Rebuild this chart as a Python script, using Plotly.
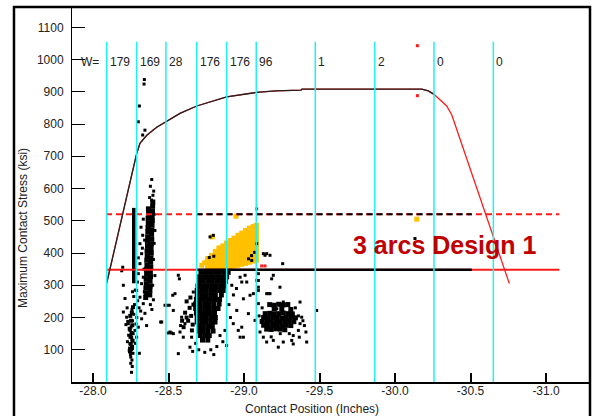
import plotly.graph_objects as go

FONT = "Arial, 'Liberation Sans', sans-serif"

# ---------------- axes ----------------
x_tick_vals = [-28.0, -28.5, -29.0, -29.5, -30.0, -30.5, -31.0]
x_tick_text = ["-28.0", "-28.5", "-29.0", "-29.5", "-30.0", "-30.5", "-31.0"]
y_tick_vals = [100, 200, 300, 400, 500, 600, 700, 800, 900, 1000, 1100]
y_tick_text = ["100", "200", "300", "400", "500", "600", "700", "800", "900", "1000", "1100"]

# ---------------- cyan window lines & W labels ----------------
cyan_x = [-28.091, -28.289, -28.483, -28.687, -28.885, -29.081, -29.472, -29.866, -30.258, -30.651]
cyan_top = 1055
w_labels = ["179", "169", "28", "176", "176", "96", "1", "2", "0", "0"]
w_label_y = 992

# ---------------- envelope curve ----------------
curve_x = [-28.091, -28.289, -28.311, -28.356, -28.422, -28.483, -28.576, -28.687, -28.885,
           -29.081, -29.210, -29.377, -29.384, -30.177, -30.220, -30.258, -30.342, -30.376, -30.757]
curve_y = [307, 708, 740, 765, 790, 807, 833, 856, 884,
           898, 903, 905, 908, 908, 903, 892, 856, 828, 305]
curve_black_count = 16

# ---------------- limit lines ----------------
limit_dashed = 520
limit_solid = 348
limit_red_x = [-28.086, -31.088]
limit_black_x = [-28.687, -30.508]

# ---------------- scatter: vertical bar ----------------
bar_x = [-28.270, -28.270]
bar_y = [306, 540]

# ---------------- scatter: band B (dense) ----------------
bcore_x = [-28.349, -28.351, -28.350, -28.353, -28.352, -28.355, -28.354, -28.357, -28.356, -28.359,
           -28.358, -28.361, -28.360, -28.362, -28.363, -28.364, -28.366, -28.365, -28.368, -28.367,
           -28.376, -28.377, -28.379, -28.378, -28.381, -28.380, -28.383, -28.382, -28.384, -28.386,
           -28.385, -28.387, -28.389, -28.388, -28.390, -28.391, -28.393, -28.392, -28.394, -28.395, -28.396]
bcore_y = [262, 276, 291, 305, 320, 334, 349, 363, 378, 392,
           407, 421, 436, 450, 465, 479, 494, 508, 523, 537,
           270, 284, 298, 313, 327, 342, 356, 371, 385, 400,
           414, 429, 443, 458, 472, 487, 501, 516, 530, 545, 558]

# band B (sparse)
bs_x = [-28.389, -28.380, -28.397, -28.389, -28.402, -28.375,
        -28.340, -28.338, -28.307, -28.300, -28.344, -28.329,
        -28.300, -28.289, -28.307, -28.322, -28.344, -28.355, -28.333, -28.311, -28.289, -28.322,
        -28.333, -28.300, -28.311, -28.322, -28.311, -28.329, -28.318, -28.333, -28.300, -28.294,
        -28.305, -28.316, -28.296, -28.340, -28.338, -28.327, -28.342,
        -28.405, -28.410, -28.405, -28.400, -28.410, -28.395, -28.400, -28.380, -28.390]
bs_y = [628, 607, 579, 564, 592, 572,
        938, 924, 856, 807, 781, 766,
        170, 139, 89, 196, 213, 175, 243, 263, 284, 305,
        325, 336, 367, 398, 429, 455, 480, 505, 385, 310,
        230, 220, 252, 280, 350, 415, 440,
        520, 470, 430, 380, 330, 300, 255, 240, 225]

# tail below the bar
tail_x = [-28.201, -28.212, -28.201, -28.223, -28.234, -28.245, -28.256, -28.245, -28.240, -28.250,
          -28.250, -28.265, -28.262, -28.258, -28.266, -28.252, -28.262, -28.270, -28.258, -28.275,
          -28.270, -28.280, -28.262, -28.236, -28.228, -28.242, -28.255, -28.248, -28.258, -28.230,
          -28.218, -28.226, -28.285, -28.290, -28.280, -28.278, -28.260, -28.255, -28.197, -28.190]
tail_y = [300, 259, 217, 201, 181, 160, 139, 119, 98, 77,
          58, 89, 110, 130, 150, 170, 190, 210, 225, 240,
          265, 285, 280, 145, 125, 105, 100, 85, 68, 188,
          178, 230, 180, 200, 120, 160, 48, 30, 356, 345]
tcore_x = [-28.245, -28.258, -28.250, -28.262, -28.248, -28.255, -28.243, -28.260, -28.252, -28.247, -28.257, -28.265]
tcore_y = [95, 105, 118, 128, 140, 152, 165, 176, 190, 205, 215, 232]

# ---------------- cluster C ----------------
ccore_x = [-28.715, -28.745, -28.775, -28.805, -28.835, -28.865, -28.895,
           -28.705, -28.735, -28.765, -28.795, -28.825, -28.855, -28.885,
           -28.700, -28.730, -28.760, -28.790, -28.820, -28.850, -28.878,
           -28.695, -28.725, -28.755, -28.785, -28.815, -28.845, -28.870,
           -28.690, -28.720, -28.750, -28.780, -28.810, -28.840, -28.862,
           -28.690, -28.720, -28.750, -28.780, -28.810, -28.850,
           -28.685, -28.715, -28.745, -28.775, -28.805, -28.838,
           -28.680, -28.710, -28.740, -28.770, -28.800, -28.835,
           -28.680, -28.710, -28.740, -28.770, -28.800, -28.828,
           -28.685, -28.715, -28.745, -28.775, -28.805,
           -28.690, -28.720, -28.750, -28.780, -28.810,
           -28.690, -28.720, -28.750, -28.780, -28.808,
           -28.700, -28.730, -28.760, -28.790,
           -28.700, -28.730, -28.760, -28.795,
           -28.710, -28.740, -28.770,
           -28.725, -28.760]
ccore_y = [340, 340, 340, 340, 340, 340, 340,
           326, 326, 326, 326, 326, 326, 326,
           312, 312, 312, 312, 312, 312, 312,
           298, 298, 298, 298, 298, 298, 298,
           284, 284, 284, 284, 284, 284, 284,
           270, 270, 270, 270, 270, 270,
           256, 256, 256, 256, 256, 256,
           242, 242, 242, 242, 242, 242,
           228, 228, 228, 228, 228, 228,
           214, 214, 214, 214, 214,
           200, 200, 200, 200, 200,
           186, 186, 186, 186, 186,
           172, 172, 172, 172,
           158, 158, 158, 158,
           144, 144, 144,
           130, 130]

cleft_x = [-28.620, -28.640, -28.610, -28.650, -28.630, -28.660, -28.600, -28.645, -28.655, -28.620, -28.665, -28.590]
cleft_y = [250, 230, 215, 205, 190, 178, 170, 262, 160, 200, 240, 190]

cs_x = [-28.565, -28.477, -28.532, -28.543, -28.664, -28.587, -28.609, -28.576, -28.510, -28.532,
        -28.598, -28.642, -28.565, -28.455, -28.653, -28.952, -28.996, -29.040, -28.974, -28.919,
        -28.929, -28.962, -28.974, -28.885, -28.874, -28.841, -29.084, -29.095, -28.488, -28.505,
        -28.528, -28.448, -28.499, -28.520, -28.572, -28.680, -28.660, -28.700, -28.740, -28.780,
        -28.800, -28.820, -28.860, -28.910, -28.900, -28.930, -28.950, -28.890, -28.580]
cs_y = [331, 238, 222, 274, 279, 201, 181, 155, 155, 150,
        139, 108, 88, 186, 139, 222, 258, 269, 325, 300,
        181, 160, 139, 113, 160, 144, 315, 284, 238, 238,
        269, 186, 152, 152, 320, 120, 95, 100, 92, 100,
        85, 110, 125, 200, 240, 270, 290, 350, 175]

# black dots lying on top of the yellow cloud
cover_x = [-28.775, -28.797, -28.770, -28.800, -29.051, -29.084, -29.128, -29.150, -29.050, -29.070, -29.030]
cover_y = [450, 455, 386, 390, 377, 429, 398, 398, 392, 402, 382]

# ---------------- cluster D ----------------
dcore_x = [-29.17, -29.20, -29.23, -29.26, -29.29,
           -29.20, -29.25, -29.31,
           -29.14, -29.17, -29.20, -29.23, -29.26, -29.29, -29.32,
           -29.13, -29.16, -29.19, -29.22, -29.25, -29.28, -29.31, -29.34,
           -29.12, -29.15, -29.18, -29.21, -29.24, -29.27, -29.30, -29.33,
           -29.13, -29.16, -29.19, -29.22, -29.25, -29.28, -29.31,
           -29.15, -29.18, -29.21, -29.24, -29.27]
dcore_y = [240, 238, 241, 239, 240,
           226, 227, 225,
           212, 213, 211, 212, 214, 212, 211,
           200, 199, 201, 200, 198, 200, 201, 199,
           188, 187, 189, 188, 186, 188, 189, 187,
           176, 175, 177, 176, 174, 176, 175,
           164, 163, 165, 164, 162]

ds_x = [-29.172, -29.139, -29.256, -29.095, -29.095, -29.194, -29.183, -29.238, -29.095, -29.150,
        -29.161, -29.172, -29.095, -29.260, -29.371, -29.481, -29.293, -29.217, -29.382, -29.371,
        -29.360, -29.326, -29.316, -29.260, -29.227, -29.194, -29.150, -29.128, -29.106, -29.117,
        -29.029, -28.985, -28.996, -29.073, -28.985, -29.018, -29.007, -29.062, -29.240, -29.300,
        -29.180, -29.360, -29.340, -29.120, -29.100, -29.415, -29.326, -29.410, -29.366, -29.390,
        -29.400, -30.132]
ds_y = [393, 393, 367, 336, 315, 331, 320, 294, 294, 274,
        274, 274, 243, 248, 248, 222, 243, 227, 201, 181,
        160, 144, 129, 124, 108, 129, 124, 139, 155, 186,
        212, 170, 139, 191, 310, 310, 331, 274, 150, 150,
        140, 205, 230, 230, 205, 124, 118, 155, 139, 190,
        175, 445]

# ---------------- yellow cluster ----------------
yel_x = [-28.760, -28.760, -28.760, -28.760,
         -28.785, -28.785, -28.785, -28.785, -28.785,
         -28.810, -28.810, -28.810, -28.810, -28.810, -28.810,
         -28.835, -28.835, -28.835, -28.835, -28.835, -28.835, -28.835,
         -28.860, -28.860, -28.860, -28.860, -28.860, -28.860, -28.860,
         -28.885, -28.885, -28.885, -28.885, -28.885, -28.885, -28.885, -28.885,
         -28.910, -28.910, -28.910, -28.910, -28.910, -28.910, -28.910, -28.910,
         -28.935, -28.935, -28.935, -28.935, -28.935, -28.935, -28.935, -28.935, -28.935,
         -28.960, -28.960, -28.960, -28.960, -28.960, -28.960, -28.960, -28.960, -28.960,
         -28.985, -28.985, -28.985, -28.985, -28.985, -28.985, -28.985, -28.985, -28.985,
         -29.010, -29.010, -29.010, -29.010, -29.010, -29.010, -29.010, -29.010, -29.010, -29.010,
         -29.035, -29.035, -29.035, -29.035, -29.035, -29.035, -29.035, -29.035, -29.035, -29.035,
         -29.060, -29.060, -29.060, -29.060, -29.060, -29.060, -29.060, -29.060, -29.060, -29.060,
         -29.082, -29.082, -29.082, -29.082, -29.082, -29.082, -29.082, -29.082, -29.082, -29.082,
         -28.720, -28.740, -28.790, -28.947, -30.144]
yel_y = [352, 364, 376, 383,
         352, 364, 376, 388, 392,
         352, 364, 376, 388, 400, 405,
         353, 365, 377, 389, 401, 413, 416,
         354, 366, 378, 390, 402, 414, 422,
         356, 368, 380, 392, 404, 416, 428, 431,
         358, 370, 382, 394, 406, 418, 430, 439,
         360, 372, 384, 396, 408, 420, 432, 444, 446,
         362, 374, 386, 398, 410, 422, 434, 446, 455,
         365, 377, 389, 401, 413, 425, 437, 449, 462,
         368, 380, 392, 404, 416, 428, 440, 452, 464, 470,
         371, 383, 395, 407, 419, 431, 443, 455, 467, 477,
         375, 387, 399, 411, 423, 435, 447, 459, 471, 482,
         378, 390, 402, 414, 426, 438, 450, 462, 474, 486,
         362, 370, 450, 514, 505]

# ---------------- red points ----------------
red_x = [-29.084, -29.117, -29.139, -30.148, -30.148]
red_y = [537, 360, 360, 1043, 888]

BLACK = "#000000"
RED = "#FF1A1A"
CYAN = "#1EF2F2"
YELLOW = "#FFC000"

fig = go.Figure()

def pts(x, y, color, size):
    fig.add_trace(go.Scatter(x=x, y=y, mode="markers",
                             marker=dict(symbol="square", size=size, color=color, line=dict(width=0)),
                             showlegend=False, hoverinfo="skip"))

# scatter clouds
pts(tail_x + bs_x + cs_x + ds_x, tail_y + bs_y + cs_y + ds_y, BLACK, 3)
pts(tcore_x + cleft_x, tcore_y + cleft_y, BLACK, 4)
pts(bcore_x + ccore_x + dcore_x, bcore_y + ccore_y + dcore_y, BLACK, 5)
fig.add_trace(go.Scatter(x=bar_x, y=bar_y, mode="lines", line=dict(color=BLACK, width=3.5),
                         showlegend=False, hoverinfo="skip"))
pts(yel_x, yel_y, YELLOW, 5)
pts(cover_x, cover_y, BLACK, 3)
pts(red_x, red_y, RED, 3)

# limit lines
fig.add_trace(go.Scatter(x=limit_red_x, y=[limit_dashed] * 2, mode="lines",
                         line=dict(color=RED, width=2, dash="6px,4px"), showlegend=False, hoverinfo="skip"))
fig.add_trace(go.Scatter(x=limit_black_x, y=[limit_dashed] * 2, mode="lines",
                         line=dict(color=BLACK, width=2, dash="6px,4px"), showlegend=False, hoverinfo="skip"))
fig.add_trace(go.Scatter(x=limit_red_x, y=[limit_solid] * 2, mode="lines",
                         line=dict(color=RED, width=2), showlegend=False, hoverinfo="skip"))
fig.add_trace(go.Scatter(x=limit_black_x, y=[limit_solid] * 2, mode="lines",
                         line=dict(color=BLACK, width=2.5), showlegend=False, hoverinfo="skip"))

# envelope curve
fig.add_trace(go.Scatter(x=curve_x, y=curve_y, mode="lines", line=dict(color=RED, width=1.3),
                         showlegend=False, hoverinfo="skip"))
fig.add_trace(go.Scatter(x=curve_x[:curve_black_count], y=curve_y[:curve_black_count], mode="lines",
                         line=dict(color="#222222", width=1.3), showlegend=False, hoverinfo="skip"))

# cyan lines
for cx in cyan_x:
    fig.add_trace(go.Scatter(x=[cx, cx], y=[0, cyan_top], mode="lines",
                             line=dict(color=CYAN, width=1.5), showlegend=False, hoverinfo="skip"))

annotations = []
annotations.append(dict(x=cyan_x[0], y=w_label_y, text="W=", showarrow=False, xanchor="right",
                        yanchor="middle", xshift=-6, font=dict(family=FONT, size=12, color="#222222")))
for cx, lab in zip(cyan_x, w_labels):
    annotations.append(dict(x=cx, y=w_label_y, text=lab, showarrow=False, xanchor="left",
                            yanchor="middle", xshift=1, font=dict(family=FONT, size=12, color="#222222")))
annotations.append(dict(x=-30.334, y=424, text="<b>3 arcs Design 1</b>", showarrow=False,
                        xanchor="center", yanchor="middle",
                        font=dict(family=FONT, size=25, color="#C00000")))
annotations.append(dict(xref="paper", yref="paper", x=-0.0946, y=0.4107, xanchor="center", yanchor="middle",
                        text="Maximum Contact Stress (ksi)", textangle=-90, showarrow=False,
                        font=dict(family=FONT, size=12, color="#222222")))
annotations.append(dict(xref="paper", yref="paper", x=0.463, y=-0.072, xanchor="center", yanchor="middle",
                        text="Contact Position (Inches)", showarrow=False,
                        font=dict(family=FONT, size=12, color="#222222")))

fig.update_layout(
    width=592, height=416,
    margin=dict(l=72, r=2, t=7, b=34),
    paper_bgcolor="white", plot_bgcolor="white",
    font=dict(family=FONT, size=12, color="#222222"),
    annotations=annotations,
    shapes=[dict(type="rect", xref="paper", yref="paper", x0=-0.112, x1=1.0, y0=-0.095, y1=1.0,
                 line=dict(color="black", width=2.5), fillcolor="rgba(0,0,0,0)", layer="above")],
    xaxis=dict(range=[-27.861, -31.291], showgrid=False, zeroline=False,
               showline=True, linecolor="black", linewidth=1.5,
               ticks="inside", ticklen=9, tickwidth=1.5, tickcolor="black",
               tickvals=x_tick_vals, ticktext=x_tick_text, ticklabelstandoff=-3,
               tickfont=dict(family=FONT, size=12, color="#222222")),
    yaxis=dict(range=[0, 1163], showgrid=False, zeroline=False,
               showline=True, linecolor="black", linewidth=1,
               ticks="inside", ticklen=13, tickwidth=1, tickcolor="black",
               tickvals=y_tick_vals, ticktext=y_tick_text, ticklabelstandoff=5,
               tickfont=dict(family=FONT, size=12, color="#222222")),
)

fig.write_html("out.html", config={"displayModeBar": False},
               post_script="document.body.style.margin='0px'; document.body.style.overflow='hidden';")
